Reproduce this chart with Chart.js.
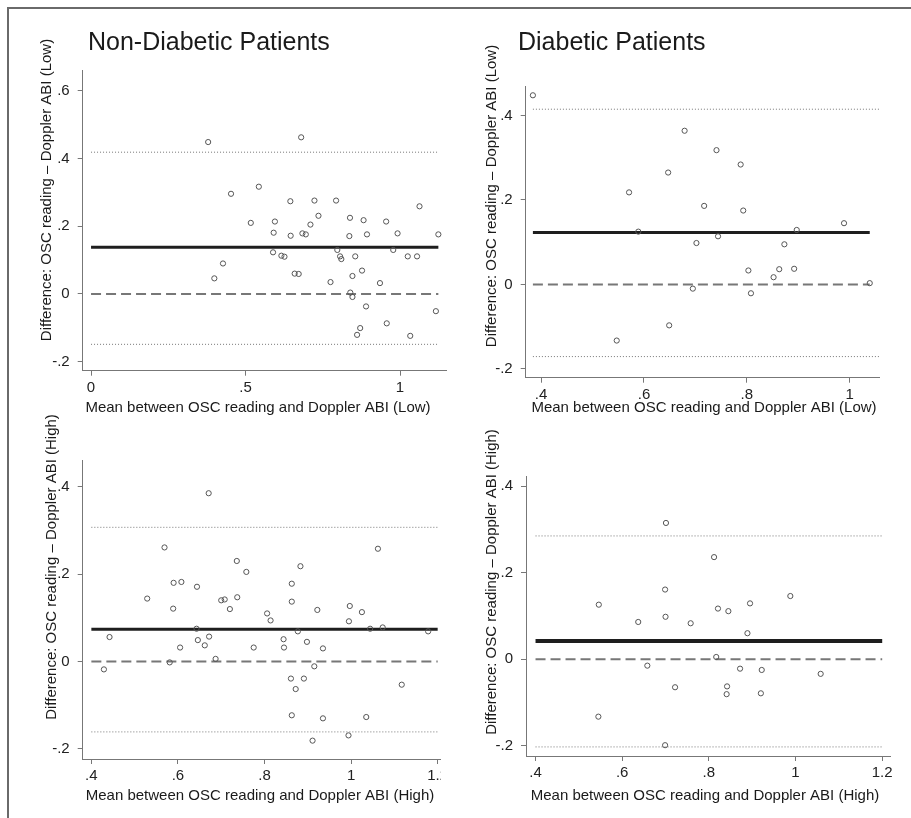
<!DOCTYPE html>
<html>
<head>
<meta charset="utf-8">
<script src="https://cdn.jsdelivr.net/npm/chart.js@4.4.1/dist/chart.umd.min.js"></script>
<style>
body { margin: 0; background: #fff; width: 911px; height: 818px; overflow: hidden; position: relative; }
#frame { position: absolute; left: 7px; top: 7px; width: 910px; height: 820px; border-top: 2px solid #6a6a6a; border-left: 2px solid #6a6a6a; }
canvas { position: absolute; }
</style>
</head>
<body>
<div id="frame"></div>
<canvas id="c1"></canvas>
<canvas id="c2"></canvas>
<canvas id="c3"></canvas>
<canvas id="c4"></canvas>
<script>
// Bland-Altman data
const p1X = [0.379, 0.680, 0.453, 0.543, 0.517, 0.399, 0.427, 0.645, 0.595, 0.591, 0.646, 0.684, 0.695, 0.710, 0.723, 0.736, 0.793, 0.589, 0.616, 0.626, 0.659, 0.672, 0.775, 0.797, 0.806, 0.810, 0.838, 0.836, 0.855, 0.846, 0.877, 0.882, 0.893, 0.839, 0.846, 0.890, 0.871, 0.861, 0.935, 0.955, 0.957, 0.992, 0.978, 1.025, 1.055, 1.063, 1.033, 1.124, 1.116];
const p1Y = [0.449, 0.463, 0.296, 0.317, 0.210, 0.046, 0.090, 0.274, 0.214, 0.181, 0.172, 0.179, 0.176, 0.205, 0.276, 0.231, 0.276, 0.123, 0.113, 0.110, 0.060, 0.059, 0.035, 0.130, 0.111, 0.103, 0.225, 0.171, 0.111, 0.053, 0.069, 0.218, 0.176, 0.004, -0.009, -0.037, -0.101, -0.121, 0.032, 0.214, -0.087, 0.179, 0.130, 0.111, 0.111, 0.259, -0.124, 0.176, -0.051];

const p2X = [0.384, 0.679, 0.741, 0.788, 0.647, 0.571, 0.717, 0.793, 0.589, 0.989, 0.897, 0.744, 0.702, 0.873, 0.803, 0.863, 0.892, 0.852, 0.695, 0.808, 1.039, 0.649, 0.547];
const p2Y = [0.448, 0.364, 0.318, 0.284, 0.265, 0.218, 0.186, 0.175, 0.125, 0.145, 0.129, 0.114, 0.098, 0.095, 0.033, 0.036, 0.037, 0.017, -0.010, -0.021, 0.003, -0.097, -0.133];

const p3X = [0.429, 0.442, 0.529, 0.569, 0.590, 0.608, 0.589, 0.581, 0.605, 0.644, 0.643, 0.646, 0.662, 0.672, 0.671, 0.687, 0.700, 0.708, 0.720, 0.736, 0.737, 0.758, 0.775, 0.806, 0.814, 0.844, 0.845, 0.863, 0.863, 0.877, 0.883, 0.898, 0.922, 0.935, 0.915, 0.861, 0.872, 0.891, 0.863, 0.935, 0.911, 0.994, 0.997, 0.995, 1.025, 1.044, 1.073, 1.062, 1.035, 1.117, 1.178];
const p3Y = [-0.018, 0.056, 0.144, 0.261, 0.180, 0.182, 0.121, -0.002, 0.032, 0.171, 0.075, 0.049, 0.037, 0.057, 0.385, 0.006, 0.140, 0.142, 0.120, 0.230, 0.147, 0.205, 0.032, 0.110, 0.094, 0.051, 0.032, 0.178, 0.137, 0.069, 0.218, 0.045, 0.118, 0.030, -0.011, -0.039, -0.063, -0.039, -0.123, -0.130, -0.181, -0.169, 0.127, 0.092, 0.113, 0.075, 0.078, 0.258, -0.127, -0.053, 0.069];

const p4X = [0.701, 0.812, 0.699, 0.546, 0.637, 0.700, 0.758, 0.821, 0.845, 0.895, 0.988, 0.889, 0.817, 0.658, 0.872, 0.922, 1.058, 0.722, 0.842, 0.841, 0.920, 0.545, 0.699];
const p4Y = [0.315, 0.236, 0.161, 0.126, 0.086, 0.098, 0.083, 0.117, 0.111, 0.129, 0.146, 0.060, 0.005, -0.015, -0.022, -0.025, -0.034, -0.065, -0.063, -0.081, -0.079, -0.133, -0.199];

// mean difference, upper and lower limits of agreement
const p1Lines = [0.138, 0.419, -0.149];
const p2Lines = [0.123, 0.415, -0.171];
const p3Lines = [0.074, 0.307, -0.161];
const p4Lines = [0.042, 0.285, -0.203];

// tick values
const ticksX1 = [0, 0.5, 1];
const ticksY1 = [-0.2, 0, 0.2, 0.4, 0.6];
const ticksX2 = [0.4, 0.6, 0.8, 1];
const ticksY2 = [-0.2, 0, 0.2, 0.4];
const ticksX3 = [0.4, 0.6, 0.8, 1, 1.2];
const ticksY3 = [-0.2, 0, 0.2, 0.4];
const ticksX4 = [0.4, 0.6, 0.8, 1, 1.2];
const ticksY4 = [-0.2, 0, 0.2, 0.4];

const yLabelLow = 'Difference: OSC reading \u2013 Doppler ABI (Low)';
const yLabelHigh = 'Difference: OSC reading \u2013 Doppler ABI (High)';
const xLabelLow = 'Mean between OSC reading and Doppler ABI (Low)';
const xLabelHigh = 'Mean between OSC reading and Doppler ABI (High)';

const FONT = '"Liberation Sans", Arial, sans-serif';
const AXIS = '#777';

function fmt(v) {
    const s = (Math.round(v * 10) / 10).toString();
    return s.replace(/^0\./, '.').replace(/^-0\./, '-.');
}

function textPlugin(items, ox, oy) {
    return {
        id: 'texts',
        afterDraw(chart) {
            const ctx = chart.ctx;
            items.forEach(t => {
                ctx.save();
                ctx.font = t.font;
                ctx.fillStyle = '#1a1a1a';
                ctx.textAlign = t.align || 'center';
                ctx.textBaseline = t.baseline || 'alphabetic';
                ctx.translate(t.x - ox, t.y - oy);
                if (t.rot) ctx.rotate(-Math.PI / 2);
                ctx.fillText(t.text, 0, 0);
                ctx.restore();
            });
        }
    };
}

function hline(v, x0, x1, color, width, dash) {
    return {
        type: 'line',
        data: [{ x: x0, y: v }, { x: x1, y: v }],
        borderColor: color,
        borderWidth: width,
        borderDash: dash,
        pointRadius: 0,
        fill: false,
        order: 2
    };
}

function makePanel(p) {
    const canvas = document.getElementById(p.id);
    canvas.width = p.box[2];
    canvas.height = p.box[3];
    canvas.style.left = p.box[0] + 'px';
    canvas.style.top = p.box[1] + 'px';
    const [cl, ct, cw, ch] = p.box;
    const [al, at, ar, ab] = p.area;
    const xh = 30;

    const points = p.xs.map((x, i) => ({ x: x, y: p.ys[i] }));
    const [mean, upper, lower] = p.lines;
    const loaEnd = p.loaEnd || p.span[1];

    const tickFont = { family: FONT, size: 15 };

    new Chart(canvas, {
        type: 'scatter',
        data: {
            datasets: [
                {
                    data: points,
                    pointStyle: 'circle',
                    pointRadius: 2.6,
                    pointBorderWidth: 1,
                    pointBorderColor: '#555',
                    pointBackgroundColor: 'rgba(255,255,255,0)',
                    order: 1
                },
                hline(mean, p.span[0], p.span[1], '#1e1e1e', p.meanWidth || 3, []),
                hline(0, p.span[0], p.span[1], '#777', 2, [10, 5]),
                hline(upper, p.span[0], loaEnd, '#777', 1, [1, 2]),
                hline(lower, p.span[0], loaEnd, '#777', 1, [1, 2])
            ]
        },
        options: {
            responsive: false,
            animation: false,
            devicePixelRatio: 1,
            layout: {
                autoPadding: false,
                padding: { left: 0, top: at - ct, right: Math.max(0, cl + cw - ar), bottom: ct + ch - ab - xh }
            },
            plugins: { legend: { display: false }, tooltip: { enabled: false } },
            scales: {
                x: {
                    type: 'linear',
                    min: p.xRange[0],
                    max: p.xRange[1],
                    afterBuildTicks: s => { s.ticks = p.ticksX.map(v => ({ value: v })); },
                    afterFit: s => { s.height = xh; s.paddingLeft = 0; s.paddingRight = 0; },
                    ticks: { callback: fmt, font: tickFont, color: '#222', padding: 3, maxRotation: 0, autoSkip: false },
                    grid: { display: true, drawOnChartArea: false, drawTicks: true, tickLength: 5, color: AXIS },
                    border: { display: true, color: AXIS, width: 1 }
                },
                y: {
                    type: 'linear',
                    min: p.yRange[0],
                    max: p.yRange[1],
                    afterBuildTicks: s => { s.ticks = p.ticksY.map(v => ({ value: v })); },
                    afterFit: s => { s.width = al - cl; s.paddingTop = 0; s.paddingBottom = 0; },
                    ticks: { callback: fmt, font: tickFont, color: '#222', padding: 8, autoSkip: false },
                    grid: { display: true, drawOnChartArea: false, drawTicks: true, tickLength: 5, color: AXIS },
                    border: { display: true, color: AXIS, width: 1 }
                }
            }
        },
        plugins: [textPlugin(p.texts, cl, ct)]
    });
}

const titleFont = '25px ' + FONT;
const labelFont = '15px ' + FONT;

makePanel({
    id: 'c1', box: [10, 10, 440, 410], area: [82.7, 70, 446.7, 370.7],
    xs: p1X, ys: p1Y, lines: p1Lines, span: [0, 1.124],
    xRange: [-0.027, 1.151], yRange: [-0.227, 0.662], ticksX: ticksX1, ticksY: ticksY1,
    texts: [
        { text: 'Non-Diabetic Patients', x: 88, y: 50, font: titleFont, align: 'left' },
        { text: yLabelLow, x: 47, y: 190, font: labelFont, rot: true, baseline: 'middle' },
        { text: xLabelLow, x: 258, y: 412, font: labelFont }
    ]
});

makePanel({
    id: 'c2', box: [455, 10, 450, 410], area: [525.7, 86, 879, 377.7],
    xs: p2X, ys: p2Y, lines: p2Lines, span: [0.384, 1.039], loaEnd: 1.057,
    xRange: [0.370, 1.057], yRange: [-0.221, 0.470], ticksX: ticksX2, ticksY: ticksY2,
    texts: [
        { text: 'Diabetic Patients', x: 518, y: 50, font: titleFont, align: 'left' },
        { text: yLabelLow, x: 492, y: 196, font: labelFont, rot: true, baseline: 'middle' },
        { text: xLabelLow, x: 704, y: 412, font: labelFont }
    ]
});

makePanel({
    id: 'c3', box: [10, 400, 431, 418], area: [82.7, 460, 440.7, 759],
    xs: p3X, ys: p3Y, lines: p3Lines, span: [0.4, 1.2],
    xRange: [0.380, 1.207], yRange: [-0.223, 0.461], ticksX: ticksX3, ticksY: ticksY3,
    texts: [
        { text: yLabelHigh, x: 52, y: 567, font: labelFont, rot: true, baseline: 'middle' },
        { text: xLabelHigh, x: 260, y: 800, font: labelFont }
    ]
});

makePanel({
    id: 'c4', box: [455, 400, 450, 418], area: [526, 476.7, 890, 756],
    xs: p4X, ys: p4Y, lines: p4Lines, span: [0.4, 1.2], meanWidth: 4,
    xRange: [0.378, 1.218], yRange: [-0.224, 0.422], ticksX: ticksX4, ticksY: ticksY4,
    texts: [
        { text: yLabelHigh, x: 492, y: 582, font: labelFont, rot: true, baseline: 'middle' },
        { text: xLabelHigh, x: 705, y: 800, font: labelFont }
    ]
});
</script>
</body>
</html>
